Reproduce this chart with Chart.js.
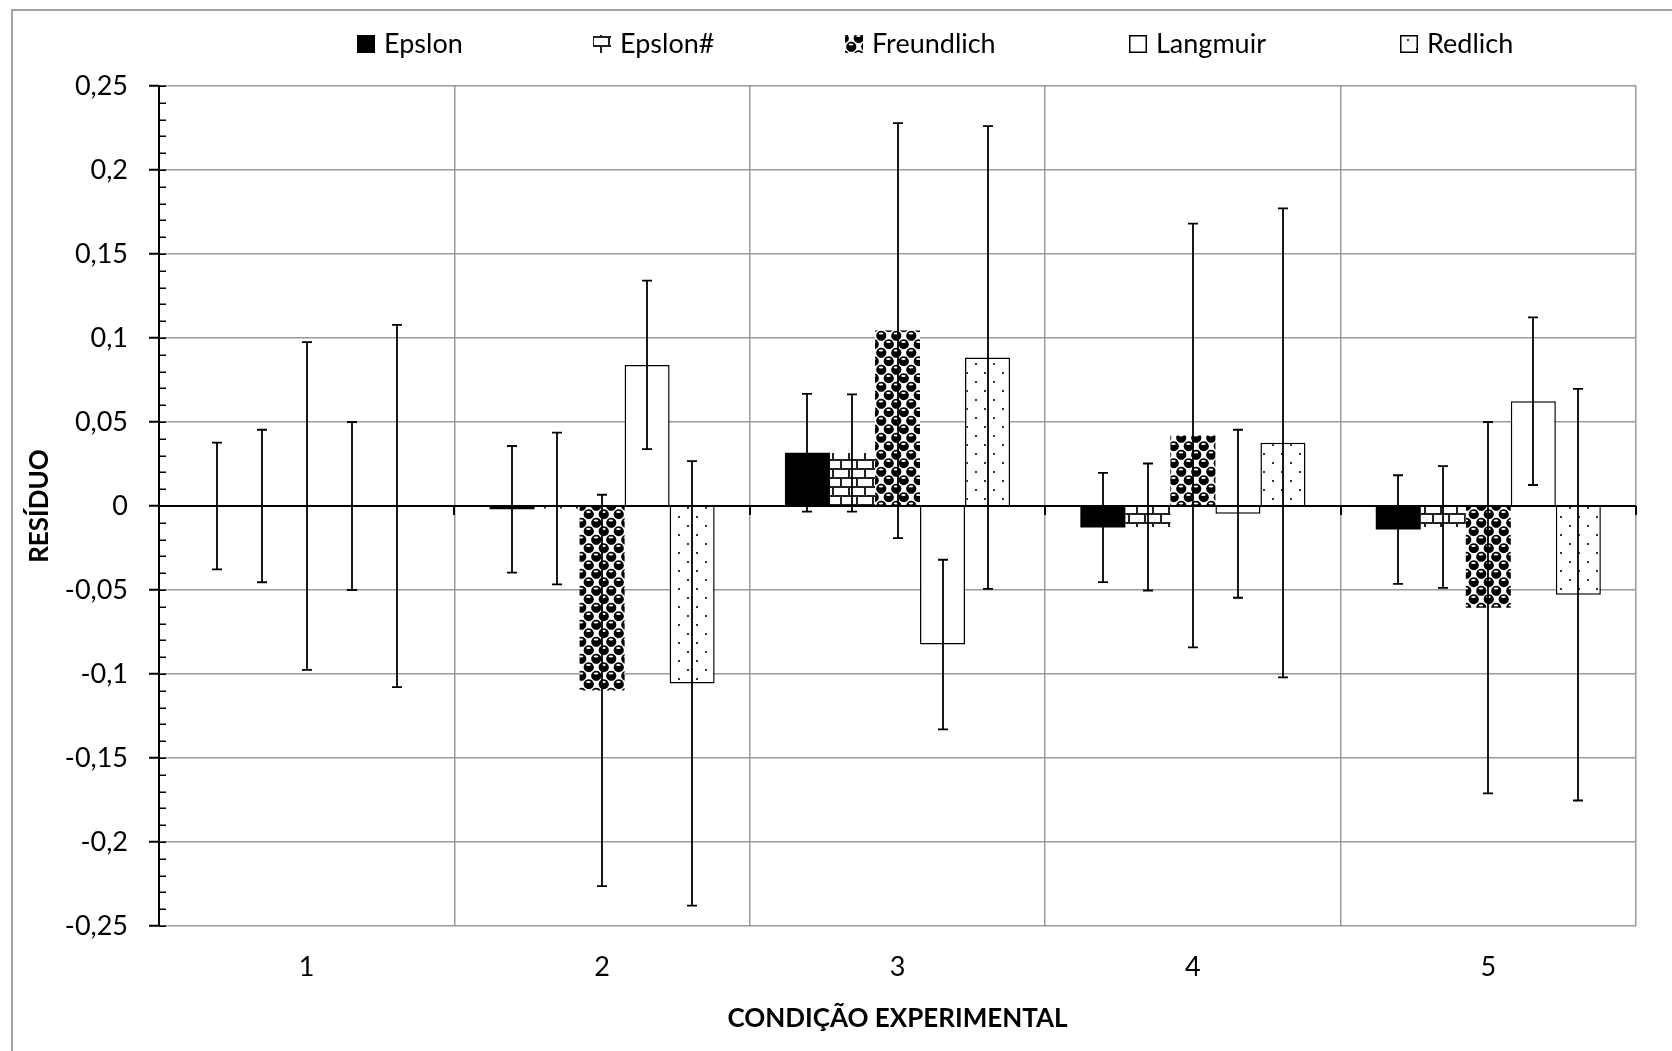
<!DOCTYPE html>
<html><head><meta charset="utf-8">
<script src="https://cdn.jsdelivr.net/npm/chart.js@4.4.1/dist/chart.umd.min.js"></script>
<style>
html,body{margin:0;padding:0;background:#fff;overflow:hidden;}
#wrap{position:relative;width:1672px;height:1051px;overflow:hidden;}
#frame{position:absolute;left:11px;top:9px;width:1700px;height:1100px;border-left:2px solid #a3a3a3;border-top:2px solid #a3a3a3;}
canvas{position:absolute;left:0;top:0;}
</style></head>
<body><div id="wrap"><div id="frame"></div><canvas id="c" width="1672" height="1051"></canvas></div>
<script>
// ---- data ----
const categories = ['1', '2', '3', '4', '5'];
const seriesNames = ['Epslon', 'Epslon#', 'Freundlich', 'Langmuir', 'Redlich'];
const epslon = [0, -0.002, 0.0317, -0.0128, -0.0140];
const epslonErr = [0.0377, 0.0377, 0.0351, 0.0325, 0.0323];
const epslonHash = [0, -0.0015, 0.0316, -0.0125, -0.0125];
const epslonHashErr = [0.0454, 0.0452, 0.0349, 0.0378, 0.0362];
const freundlich = [0, -0.1098, 0.1044, 0.0420, -0.0605];
const freundlichErr = [0.0975, 0.1165, 0.1235, 0.1261, 0.1105];
const langmuir = [0, 0.0840, -0.0825, -0.0046, 0.0624];
const langmuirErr = [0.0500, 0.0501, 0.0505, 0.0500, 0.0499];
const redlich = [0, -0.1056, 0.0884, 0.0376, -0.0528];
const redlichErr = [0.1078, 0.1323, 0.1377, 0.1396, 0.1225];
const yTickLabels = ['-0,25', '-0,2', '-0,15', '-0,1', '-0,05', '0', '0,05', '0,1', '0,15', '0,2', '0,25'];

// ---- patterns ----
Chart.defaults.font.family = 'Lato';
const cv = document.getElementById('c');
const ctx0 = cv.getContext('2d');
function tile(w, h, draw) {
  const c = document.createElement('canvas'); c.width = w; c.height = h;
  const g = c.getContext('2d'); g.fillStyle = '#fff'; g.fillRect(0, 0, w, h); draw(g, w, h);
  return ctx0.createPattern(c, 'repeat');
}
const brickPat = tile(16, 18, g => {
  g.fillStyle = '#222';
  g.fillRect(0, 0, 16, 2); g.fillRect(0, 9, 16, 2);
  g.fillRect(0, 0, 2, 9); g.fillRect(8, 9, 2, 9);
});
const spherePat = tile(15, 17, (g, w, h) => {
  const centers = [[3.75, 4.25], [11.25, 12.75]];
  for (const [cx0, cy0] of centers) for (const dx of [-w, 0, w]) for (const dy of [-h, 0, h]) {
    const cx = cx0 + dx, cy = cy0 + dy;
    g.fillStyle = '#000'; g.beginPath(); g.arc(cx, cy, 5.1, 0, Math.PI * 2); g.fill();
  }
  for (const [cx0, cy0] of centers) for (const dx of [-w, 0, w]) for (const dy of [-h, 0, h]) {
    const cx = cx0 + dx, cy = cy0 + dy;
    g.fillStyle = '#fff'; g.beginPath(); g.ellipse(cx - 0.3, cy - 2.2, 2.3, 1.0, 0, 0, Math.PI * 2); g.fill();
  }
});
const dotPat = tile(18, 18, g => {
  g.fillStyle = '#333'; g.fillRect(3, 3, 2, 2); g.fillRect(12, 12, 2, 2);
});

const seriesValues = [epslon, epslonHash, freundlich, langmuir, redlich];
const seriesErrors = [epslonErr, epslonHashErr, freundlichErr, langmuirErr, redlichErr];
const fills = ['#000', brickPat, spherePat, '#fff', dotPat];
const borders = [0, 0, 0, 1.5, 1.5];

const datasets = seriesNames.map((n, i) => ({
  label: n, data: seriesValues[i], errors: seriesErrors[i],
  backgroundColor: fills[i], borderColor: '#000', borderWidth: borders[i]
}));

const legendX = [357, 593, 845, 1129, 1400];

const decor = {
  id: 'decor',
  afterDatasetsDraw(chart) {
    const { ctx, chartArea: a, scales: { x, y } } = chart;
    ctx.save();
    const y0 = y.getPixelForValue(0);
    ctx.strokeStyle = '#000'; ctx.lineWidth = 2;
    ctx.beginPath(); ctx.moveTo(a.left, y0); ctx.lineTo(a.right, y0); ctx.stroke();
    ctx.beginPath(); ctx.moveTo(a.left, a.top); ctx.lineTo(a.left, a.bottom); ctx.stroke();
    const step = x.getPixelForValue(1) - x.getPixelForValue(0);
    const start = x.getPixelForValue(0) - step / 2;
    ctx.beginPath();
    for (let i = 0; i <= categories.length; i++) {
      const px = Math.round(start + i * step);
      ctx.moveTo(px, y0); ctx.lineTo(px, y0 + 9);
    }
    ctx.stroke();
    ctx.lineWidth = 1.5;
    ctx.beginPath();
    for (let k = -25; k <= 25; k++) {
      const py = Math.round(y.getPixelForValue(k / 100)) + 0.25;
      ctx.moveTo(a.left, py); ctx.lineTo(a.left + 7, py);
    }
    ctx.stroke();
    // error bars
    ctx.lineWidth = 1.8;
    chart.data.datasets.forEach((ds, di) => {
      const meta = chart.getDatasetMeta(di);
      meta.data.forEach((bar, i) => {
        const v = ds.data[i], e = ds.errors[i];
        const t = y.getPixelForValue(v + e), b = y.getPixelForValue(v - e);
        const bx = Math.round(bar.x);
        ctx.beginPath();
        ctx.moveTo(bx, t); ctx.lineTo(bx, b);
        ctx.moveTo(bx - 5, t); ctx.lineTo(bx + 5, t);
        ctx.moveTo(bx - 5, b); ctx.lineTo(bx + 5, b);
        ctx.stroke();
      });
    });
    ctx.restore();
  },
  afterDraw(chart) {
    const ctx = chart.ctx;
    ctx.save();
    chart.data.datasets.forEach((ds, i) => {
      const bx = legendX[i], by = 35, s = 18;
      ctx.fillStyle = ds.backgroundColor;
      ctx.fillRect(bx, by, s, s);
      if (ds.borderWidth) { ctx.strokeStyle = '#000'; ctx.lineWidth = 1.5; ctx.strokeRect(bx + 0.75, by + 0.75, s - 1.5, s - 1.5); }
      ctx.fillStyle = '#000'; ctx.font = '27px Lato'; ctx.textBaseline = 'middle'; ctx.textAlign = 'left';
      ctx.fillText(ds.label, bx + 27, by + s / 2);
    });
    ctx.restore();
  }
};

new Chart(cv, {
  type: 'bar',
  data: { labels: categories, datasets },
  plugins: [decor],
  options: {
    responsive: false, animation: false, devicePixelRatio: 1,
    layout: { padding: { top: 86, right: 36, left: 0, bottom: 0 } },
    datasets: { bar: { categoryPercentage: 0.762, barPercentage: 1 } },
    plugins: { legend: { display: false }, tooltip: { enabled: false } },
    scales: {
      x: {
        ticks: { padding: 25, color: '#000', font: { size: 27 }, autoSkip: false, maxRotation: 0 },
        grid: { offset: true, color: '#9a9a9a', lineWidth: 1.5, drawTicks: false },
        border: { display: false },
        title: { display: true, text: 'CONDIÇÃO EXPERIMENTAL', color: '#000', font: { size: 26, weight: 'bold' }, padding: { top: 0, bottom: 17 } },
        afterFit(s) { s.height = 125; }
      },
      y: {
        min: -0.25, max: 0.25,
        ticks: { stepSize: 0.05, autoSkip: false, padding: 21, color: '#000', font: { size: 27 },
          callback: v => yTickLabels[Math.round(v * 20) + 5] },
        grid: { color: '#9a9a9a', lineWidth: 1.5, tickLength: 10, tickColor: '#000', tickWidth: 2 },
        border: { color: '#000', width: 2 },
        title: { display: true, text: 'RESÍDUO', color: '#000', font: { size: 26, weight: 'bold' }, padding: { top: 24, bottom: 0 } },
        afterFit(s) { s.width = 159; }
      }
    }
  }
});
</script>
</body></html>
